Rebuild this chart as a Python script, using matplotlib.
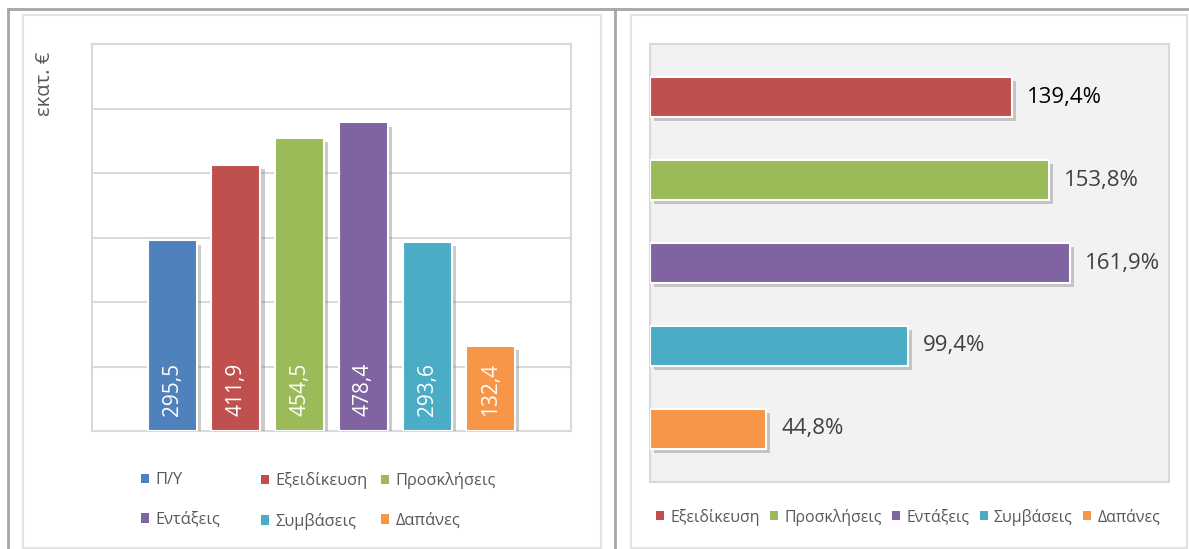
import matplotlib.pyplot as plt
import matplotlib.patches as mpatches
import matplotlib.patheffects as pe
from matplotlib.lines import Line2D

# data
left_names = ['Π/Υ', 'Εξειδίκευση', 'Προσκλήσεις', 'Εντάξεις', 'Συμβάσεις', 'Δαπάνες']
left_values = [295.5, 411.9, 454.5, 478.4, 293.6, 132.4]
left_labels = ['295,5', '411,9', '454,5', '478,4', '293,6', '132,4']
left_colors = ['#4f81bd', '#c0504d', '#9bbb59', '#8064a2', '#4bacc6', '#f79646']

right_names = ['Εξειδίκευση', 'Προσκλήσεις', 'Εντάξεις', 'Συμβάσεις', 'Δαπάνες']
right_values = [139.4, 153.8, 161.9, 99.4, 44.8]
right_labels = ['139,4%', '153,8%', '161,9%', '99,4%', '44,8%']
right_colors = ['#c0504d', '#9bbb59', '#8064a2', '#4bacc6', '#f79646']

plt.rcParams['font.family'] = ['Open Sans', 'DejaVu Sans']

W, H = 1189, 549
fig = plt.figure(figsize=(W / 100, H / 100), dpi=100)


def fx(px):
    return px / W


def fy(py):
    return 1 - py / H


grid_c = '#d9d9d9'
text_c = '#595959'
shadow = [pe.SimplePatchShadow(offset=(3, -3), shadow_rgbFace='#7f7f7f', alpha=0.4), pe.Normal()]

# frame lines (table borders and chart boxes)
fig.add_artist(Line2D([fx(8), fx(1189)], [fy(9), fy(9)], color='#a6a6a6', lw=2))
fig.add_artist(Line2D([fx(8), fx(8)], [fy(9), fy(549)], color='#a6a6a6', lw=2))
fig.add_artist(Line2D([fx(615), fx(615)], [fy(9), fy(549)], color='#a6a6a6', lw=2))
fig.add_artist(mpatches.Rectangle((fx(23), fy(548)), fx(601 - 23), (548 - 15) / H,
                                  fill=False, ec='#e3e3e3', lw=1.5))
fig.add_artist(mpatches.Rectangle((fx(631), fy(548)), fx(1187 - 631), (548 - 15) / H,
                                  fill=False, ec='#e3e3e3', lw=1.5))

# left chart
ax1 = fig.add_axes([fx(92), fy(431), fx(571 - 92), (431 - 44) / H])
xs = list(range(len(left_values)))
for i in xs:
    b = ax1.bar(i, left_values[i], width=0.77, color=left_colors[i], edgecolor='white',
                linewidth=1.5, zorder=3)
    b[0].set_path_effects(shadow)
    ax1.annotate(left_labels[i], xy=(i, 0), xytext=(0, 11), textcoords='offset points',
                 rotation=90, ha='center', va='bottom', color='white', fontsize=15, zorder=4)
ax1.set_ylim(0, 600)
ax1.set_yticks(range(0, 601, 100))
ax1.set_xlim(2.5 - 3.76, 2.5 + 3.76)
ax1.set_xticks([])
ax1.yaxis.grid(True, color=grid_c, lw=1.5, zorder=0)
ax1.tick_params(left=False, labelleft=False)
for s in ax1.spines.values():
    s.set_color(grid_c)
    s.set_linewidth(1.5)
fig.text(fx(45), fy(84), 'εκατ. €', rotation=90, ha='center', va='center',
         color=text_c, fontsize=14.5)

# left legend, three columns
cols = [[0, 3], [1, 4], [2, 5]]
col_x = [141, 261, 381]
for cx, idx in zip(col_x, cols):
    handles = [mpatches.Patch(facecolor=left_colors[k]) for k in idx]
    fig.legend(handles, [left_names[k] for k in idx], loc='upper left',
               bbox_to_anchor=(fx(cx), fy(472)), frameon=False, fontsize=11.8,
               handlelength=0.5, handleheight=0.5, handletextpad=0.4,
               labelspacing=1.45, borderpad=0, borderaxespad=0, labelcolor=text_c)

# right chart
ax2 = fig.add_axes([fx(650), fy(482), fx(1169 - 650), (482 - 44) / H])
ax2.set_facecolor('#f2f2f2')
ys = list(range(len(right_values)))
for i in ys:
    b = ax2.barh(i, right_values[i], height=0.48, color=right_colors[i], edgecolor='white',
                 linewidth=1.5, zorder=3)
    b[0].set_path_effects(shadow)
    ax2.annotate(right_labels[i], xy=(right_values[i], i), xytext=(11, 0),
                 textcoords='offset points', ha='left', va='center', fontsize=16,
                 color='#000000' if i == 0 else '#404040')
ax2.set_xlim(0, 200)
ax2.set_ylim(4 + 0.64, -0.64)
ax2.set_xticks([])
ax2.set_yticks([])
for s in ax2.spines.values():
    s.set_color(grid_c)
    s.set_linewidth(1.5)

handles = [mpatches.Patch(facecolor=c) for c in right_colors]
fig.legend(handles, right_names, loc='center', bbox_to_anchor=(fx(908), fy(517)),
           ncol=5, frameon=False, fontsize=11.4, handlelength=0.5, handleheight=0.5,
           handletextpad=0.4, columnspacing=0.65, borderpad=0, labelcolor=text_c)

fig.savefig('out.png', dpi=100)
